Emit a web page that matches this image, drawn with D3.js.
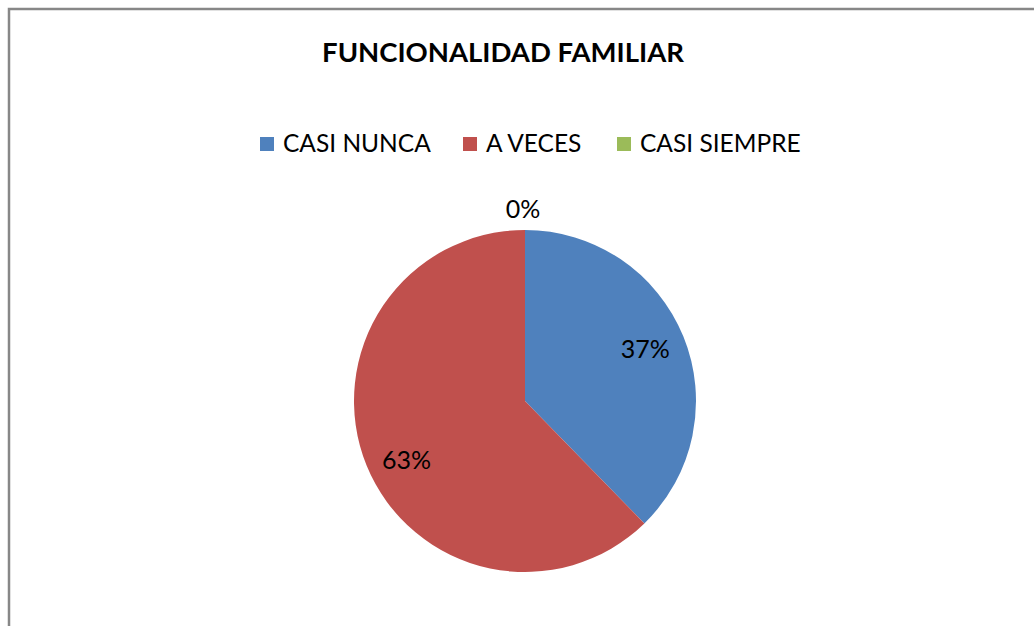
<!DOCTYPE html>
<html><head><meta charset="utf-8">
<script src="https://cdn.jsdelivr.net/npm/d3@7"></script>
<style>body{margin:0;background:#fff;} svg{display:block;}</style>
</head><body>
<svg id="c" width="1034" height="626"></svg>
<script>
const categories = ["CASI NUNCA", "A VECES", "CASI SIEMPRE"];
const values = [37.7, 62.3, 0];
const labels = ["37%", "63%", "0%"];
const colors = ["#4F81BD", "#C0504D", "#9BBB59"];
const title = "FUNCIONALIDAD FAMILIAR";

const svg = d3.select("#c");
const font = "Lato, 'Open Sans', sans-serif";

svg.append("rect").attr("x", 9).attr("y", 9).attr("width", 1040).attr("height", 640)
  .attr("fill", "none").attr("stroke", "#878787").attr("stroke-width", 2.5);

svg.append("text").attr("x", 503).attr("y", 62).attr("text-anchor", "middle")
  .attr("font-family", font).attr("font-weight", "bold").attr("font-size", 27.5)
  .attr("fill", "#000").text(title);

// legend
const legX = [260, 463, 617];
const lg = svg.append("g");
categories.forEach((c, i) => {
  lg.append("rect").attr("x", legX[i]).attr("y", 137).attr("width", 14).attr("height", 14).attr("fill", colors[i]);
  lg.append("text").attr("x", legX[i] + 23).attr("y", 152).attr("font-family", font)
    .attr("font-size", 24.5).attr("fill", "#000").text(c);
});

const cx = 525, cy = 401, r = 171;
const pie = d3.pie().sort(null).value(d => d)(values);
const arc = d3.arc().innerRadius(0).outerRadius(r);
const g = svg.append("g").attr("transform", `translate(${cx},${cy})`);
g.selectAll("path").data(pie).enter().append("path")
  .attr("d", arc).attr("fill", (d, i) => colors[i]);

const labelArc = d3.arc().innerRadius(r * 0.76).outerRadius(r * 0.76);
g.selectAll("text.lbl").data(pie).enter().append("text").attr("class", "lbl")
  .attr("transform", (d, i) => {
    if (d.value === 0) return `translate(${-2},${-r - 12})`;
    const p = labelArc.centroid(d);
    return `translate(${p[0] + (p[0] < 0 ? 2 : 0)},${p[1] + (p[1] > 0 ? 19 : 6)})`;
  })
  .attr("text-anchor", "middle").attr("font-family", font).attr("font-size", 25)
  .attr("fill", "#000").text((d, i) => labels[i]);
</script>
</body></html>
